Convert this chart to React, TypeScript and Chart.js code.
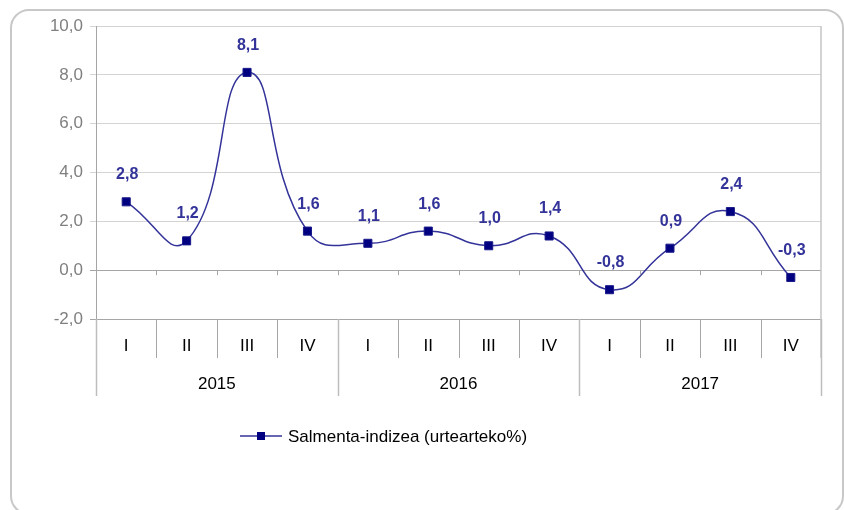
import React, { useEffect, useRef } from 'react';
import { Chart, registerables } from 'chart.js';

Chart.register(...registerables);

const quarters = ['I', 'II', 'III', 'IV', 'I', 'II', 'III', 'IV', 'I', 'II', 'III', 'IV'];
const years = ['2015', '2016', '2017'];
const quartersPerYear = 4;
const values = [2.8, 1.2, 8.1, 1.6, 1.1, 1.6, 1.0, 1.4, -0.8, 0.9, 2.4, -0.3];
const seriesName = 'Salmenta-indizea (urtearteko%)';
const yMin = -2;
const yMax = 10;
const yStep = 2;

const FONT = '"Liberation Sans", Arial, sans-serif';
const fmt = (v: number) => v.toFixed(1).replace('.', ',');

const decorPlugin = {
  id: 'decor',
  beforeDraw(chart: any) {
    const ctx = chart.ctx;
    ctx.save();
    ctx.fillStyle = '#ffffff';
    ctx.fillRect(0, 0, chart.width, chart.height);
    // outer rounded border
    const x0 = 11, y0 = 10, x1 = 843, y1 = 514, r = 18;
    ctx.beginPath();
    ctx.moveTo(x0 + r, y0);
    ctx.lineTo(x1 - r, y0);
    ctx.arcTo(x1, y0, x1, y0 + r, r);
    ctx.lineTo(x1, y1 - r);
    ctx.arcTo(x1, y1, x1 - r, y1, r);
    ctx.lineTo(x0 + r, y1);
    ctx.arcTo(x0, y1, x0, y1 - r, r);
    ctx.lineTo(x0, y0 + r);
    ctx.arcTo(x0, y0, x0 + r, y0, r);
    ctx.closePath();
    ctx.strokeStyle = '#c8c8c8';
    ctx.lineWidth = 2;
    ctx.stroke();
    ctx.restore();
  },
  afterDraw(chart: any) {
    const ctx = chart.ctx;
    const area = chart.chartArea;
    const yScale = chart.scales.y;
    const n = quarters.length;
    const w = (area.right - area.left) / n;
    const y0 = yScale.getPixelForValue(0);
    ctx.save();
    // right border of plot
    ctx.strokeStyle = '#c4c4c4';
    ctx.lineWidth = 1.5;
    ctx.beginPath();
    ctx.moveTo(area.right, area.top);
    ctx.lineTo(area.right, area.bottom + 39);
    ctx.stroke();
    // zero-line ticks
    ctx.strokeStyle = '#a6a6a6';
    ctx.lineWidth = 1;
    for (let i = 1; i < n; i++) {
      const x = Math.round(area.left + i * w) + 0.5;
      ctx.beginPath();
      ctx.moveTo(x, y0);
      ctx.lineTo(x, y0 + 5);
      ctx.stroke();
    }
    // category separators
    for (let i = 0; i <= n; i++) {
      const x = Math.round(area.left + i * w) + 0.5;
      const isYear = i % quartersPerYear === 0;
      ctx.strokeStyle = isYear ? '#bdbdbd' : '#a6a6a6';
      ctx.lineWidth = isYear ? 1.5 : 1;
      ctx.beginPath();
      ctx.moveTo(x, area.bottom);
      ctx.lineTo(x, area.bottom + (isYear ? 77 : 39));
      ctx.stroke();
    }
    // quarter labels
    ctx.fillStyle = '#000000';
    ctx.font = `17px ${FONT}`;
    ctx.textAlign = 'center';
    ctx.textBaseline = 'alphabetic';
    quarters.forEach((q, i) => {
      ctx.fillText(q, area.left + (i + 0.5) * w, area.bottom + 32);
    });
    years.forEach((yr, j) => {
      ctx.fillText(yr, area.left + (j + 0.5) * quartersPerYear * w, area.bottom + 70);
    });
    // data labels
    const meta = chart.getDatasetMeta(0);
    ctx.fillStyle = '#333399';
    ctx.font = `bold 16px ${FONT}`;
    meta.data.forEach((pt: any, i: number) => {
      ctx.fillText(fmt(values[i]), pt.x + 1, pt.y - 22.5);
    });
    // legend
    const ly = 436;
    ctx.strokeStyle = '#333399';
    ctx.lineWidth = 1.5;
    ctx.beginPath();
    ctx.moveTo(240, ly);
    ctx.lineTo(282, ly);
    ctx.stroke();
    ctx.fillStyle = '#000080';
    ctx.fillRect(257, ly - 4, 8, 8);
    ctx.fillStyle = '#000000';
    ctx.font = `17px ${FONT}`;
    ctx.textAlign = 'left';
    ctx.fillText(seriesName, 288, ly + 6);
    ctx.restore();
  },
};

export default function App() {
  const ref = useRef<HTMLCanvasElement>(null);
  useEffect(() => {
    const canvas = ref.current;
    if (!canvas) return;
    const chart = new Chart(canvas, {
      type: 'line',
      data: {
        labels: quarters.map((q, i) => `${years[Math.floor(i / quartersPerYear)]} ${q}`),
        datasets: [
          {
            label: seriesName,
            data: values,
            borderColor: '#333399',
            borderWidth: 1.5,
            backgroundColor: '#000080',
            pointStyle: 'rect',
            pointRadius: 5.7,
            pointBorderColor: '#1a1a8a',
            pointBorderWidth: 1,
            pointBackgroundColor: '#000080',
            tension: 0.5,
            fill: false,
          },
        ],
      },
      options: {
        responsive: false,
        animation: false,
        devicePixelRatio: 1,
        layout: { padding: { left: 0, top: 26, right: 23, bottom: 191 } },
        plugins: {
          legend: { display: false },
          tooltip: { enabled: false },
        },
        scales: {
          x: { type: 'category', offset: true, display: false },
          y: {
            min: yMin,
            max: yMax,
            afterFit: (scale: any) => {
              scale.width = 96;
            },
            ticks: {
              stepSize: yStep,
              padding: 7,
              color: '#7f7f7f',
              font: { family: FONT, size: 17 },
              callback: (v: any) => fmt(Number(v)),
            },
            grid: {
              color: (c: any) => (c.tick && (c.tick.value === 0 || c.tick.value === yMin) ? '#a6a6a6' : '#d4d4d4'),
              tickColor: (c: any) => (c.tick && (c.tick.value === 0 || c.tick.value === yMin) ? '#a6a6a6' : '#d4d4d4'),
              tickLength: 6,
              lineWidth: 1,
            },
            border: { display: true, color: '#a6a6a6', width: 1 },
          },
        },
      },
      plugins: [decorPlugin],
    });
    return () => chart.destroy();
  }, []);
  return (
    <div style={{ position: 'absolute', left: 0, top: 0, width: 844, height: 510 }}>
      <canvas ref={ref} width={844} height={510} style={{ width: 844, height: 510, display: 'block' }} />
    </div>
  );
}
